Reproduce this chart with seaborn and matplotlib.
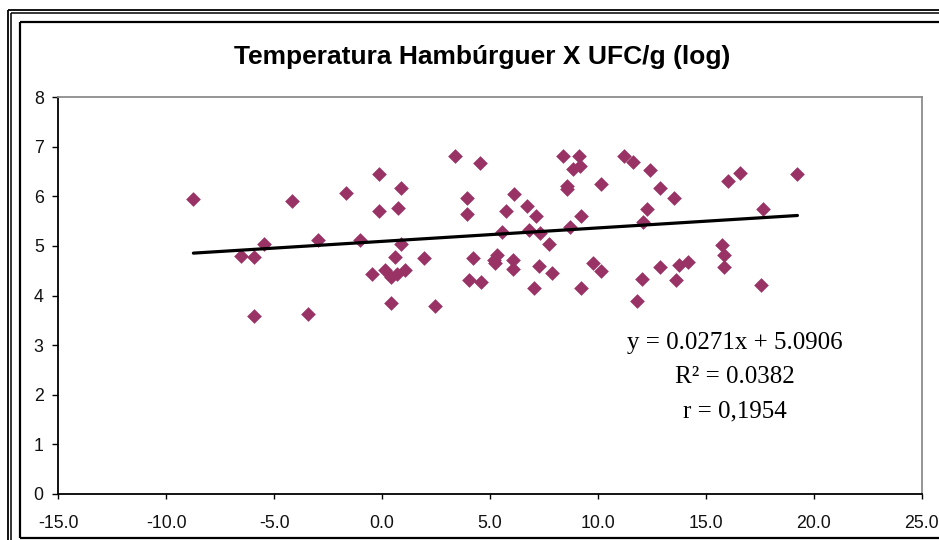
import matplotlib
matplotlib.use("Agg")
import matplotlib.pyplot as plt
from matplotlib.lines import Line2D
import seaborn as sns
import pandas as pd
import numpy as np

# ---- data ----
temperatura = [
    -8.74, -6.53, -5.91, -5.47, -5.91, -4.18, -3.42, -2.98, -1.68, -1.01,
    -0.16, -0.16, -0.48, 0.88, 0.74, 0.88, 0.60, 0.13, 0.43, 0.71,
    1.05, 0.43, 1.95, 2.47, 3.40, 4.53, 3.93, 3.93, 4.22, 4.01,
    4.59, 6.12, 5.74, 6.73, 7.12, 5.58, 6.81, 7.33, 7.72, 5.35,
    5.17, 5.24, 6.05, 6.06, 7.26, 7.86, 7.04, 8.40, 9.14, 8.86,
    9.17, 8.56, 8.56, 10.13, 9.22, 8.69, 9.78, 10.15, 9.22, 11.20,
    11.65, 12.42, 12.87, 13.55, 12.28, 12.11, 16.04, 16.59, 19.25, 17.65,
    15.76, 15.83, 15.83, 12.87, 13.78, 14.17, 12.04, 13.63, 11.82, 17.58,
]
ufc_log = [
    5.94, 4.80, 4.77, 5.04, 3.59, 5.90, 3.62, 5.11, 6.07, 5.11,
    6.44, 5.71, 4.44, 6.17, 5.77, 5.03, 4.77, 4.52, 4.37, 4.43,
    4.51, 3.85, 4.75, 3.79, 6.81, 6.67, 5.97, 5.64, 4.75, 4.31,
    4.28, 6.04, 5.71, 5.80, 5.61, 5.28, 5.31, 5.25, 5.04, 4.81,
    4.72, 4.65, 4.71, 4.54, 4.59, 4.45, 4.16, 6.81, 6.81, 6.54,
    6.61, 6.20, 6.14, 6.24, 5.61, 5.38, 4.65, 4.49, 4.15, 6.81,
    6.69, 6.53, 6.17, 5.97, 5.74, 5.49, 6.30, 6.47, 6.44, 5.74,
    5.02, 4.81, 4.57, 4.57, 4.62, 4.68, 4.34, 4.31, 3.88, 4.22,
]
slope = 0.0271
intercept = 5.0906
eq_lines = ["y = 0.0271x + 5.0906", "R\u00b2 = 0.0382", "r = 0,1954"]
title = "Temperatura Hambúrguer X UFC/g (log)"
x_ticks = [-15.0, -10.0, -5.0, 0.0, 5.0, 10.0, 15.0, 20.0, 25.0]
y_ticks = [0, 1, 2, 3, 4, 5, 6, 7, 8]

df = pd.DataFrame({"temp": temperatura, "ufc": ufc_log})
xr = np.array([min(temperatura), max(temperatura)])
trend = pd.DataFrame({"x": xr, "y": slope * xr + intercept})

# ---- figure ----
sns.set_style("white")
plt.rcParams["font.family"] = ["Liberation Sans", "DejaVu Sans"]

W, H = 939, 540
fig = plt.figure(figsize=(W / 100, H / 100), dpi=100)
fig.patch.set_facecolor("white")

def fx(px):
    return px / W

def fy(py):
    return 1 - py / H

ax = fig.add_axes([fx(58.3), fy(494), fx(921.5) - fx(58.3), fy(97) - fy(494)])

sns.scatterplot(data=df, x="temp", y="ufc", marker="D", s=56, color="#993366",
                linewidth=0, ax=ax, zorder=3, legend=False)
sns.lineplot(data=trend, x="x", y="y", color="black", linewidth=2.3, ax=ax,
             zorder=4, legend=False)

ax.set_xlim(-15, 25)
ax.set_ylim(0, 8)
ax.set_xticks(x_ticks)
ax.set_xticklabels([f"{v:.1f}" for v in x_ticks])
ax.set_yticks(y_ticks)
ax.set_yticklabels([str(v) for v in y_ticks])
ax.set_xlabel("")
ax.set_ylabel("")
ax.grid(False)

for side in ["left", "bottom"]:
    ax.spines[side].set_color("black")
    ax.spines[side].set_linewidth(1.3)
for side in ["top", "right"]:
    ax.spines[side].set_color("#8c8c8c")
    ax.spines[side].set_linewidth(1.3)

ax.tick_params(axis="y", direction="out", length=4.5, width=1.0, color="black",
               labelsize=12.8, pad=6, left=True)
ax.tick_params(axis="x", direction="out", length=3.5, width=1.0, color="black",
               labelsize=12.8, pad=11.5, bottom=True)
for lbl in ax.get_xticklabels() + ax.get_yticklabels():
    lbl.set_color("#111111")

# regression equation text
for txt, py in zip(eq_lines, [343, 377, 411]):
    fig.text(fx(735), fy(py), txt, ha="center", va="center", fontsize=18,
             family=["Liberation Serif", "DejaVu Serif"], color="black")

# title
fig.text(fx(482), fy(57), title, ha="center", va="center", fontsize=19,
         fontweight="bold", color="black")

# frame lines (outer double border + chart area border)
def seg(x0, y0, x1, y1, lw, color="black"):
    fig.add_artist(Line2D([fx(x0), fx(x1)], [fy(y0), fy(y1)], lw=lw, color=color,
                          transform=fig.transFigure, solid_capstyle="butt"))

seg(8.3, 10, 8.3, 540, 1.3)
seg(11.3, 12.6, 11.3, 540, 1.1)
seg(8.3, 10, 939, 10, 1.3)
seg(11.3, 12.6, 939, 12.6, 1.1)
seg(19.5, 21.7, 19.5, 537.5, 1.6)
seg(19.5, 21.7, 939, 21.7, 1.6)
seg(19.5, 537.5, 939, 537.5, 1.6)

fig.savefig("out.png", dpi=100)
